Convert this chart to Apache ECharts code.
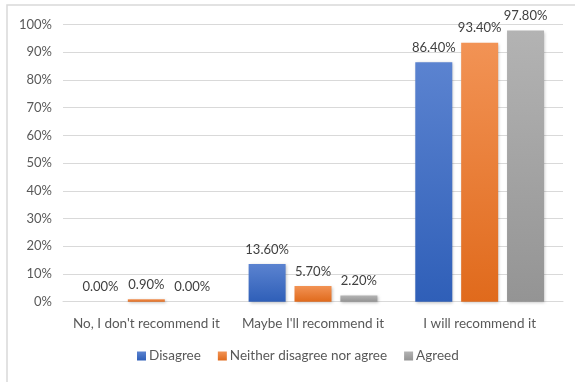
<!DOCTYPE html>
<html>
<head>
<meta charset="utf-8">
<script src="https://cdn.jsdelivr.net/npm/echarts@6/dist/echarts.min.js"></script>
<style>
  html, body { margin: 0; padding: 0; background: #fff; }
</style>
</head>
<body>
<div id="chart" style="width: 575px;height: 382px;"></div>
<script>
  var categories = ['No, I don\'t recommend it', 'Maybe I\'ll recommend it', 'I will recommend it'];
  var disagree = [0.0, 13.6, 86.4];
  var neither = [0.9, 5.7, 93.4];
  var agreed = [0.0, 2.2, 97.8];

  var FONT = 'Lato';

  function grad(top, bottom) {
    return new echarts.graphic.LinearGradient(0, 0, 0, 1, [
      { offset: 0, color: top },
      { offset: 1, color: bottom }
    ]);
  }

  function makeSeries(name, data, top, bottom) {
    return {
      name: name,
      type: 'bar',
      data: data,
      barWidth: 37,
      barGap: '24%',
      itemStyle: {
        color: grad(top, bottom),
        shadowColor: 'rgba(0,0,0,0.25)',
        shadowBlur: 3,
        shadowOffsetX: 1,
        shadowOffsetY: 1
      },
      label: {
        show: true,
        position: 'top',
        distance: 8,
        fontFamily: FONT,
        fontSize: 13,
        color: '#404040',
        formatter: function (p) { return p.value.toFixed(2) + '%'; }
      }
    };
  }

  var chart = echarts.init(document.getElementById('chart'));
  chart.setOption({
    animation: false,
    color: ['#4472C4', '#ED7D31', '#A5A5A5'],
    textStyle: { fontFamily: FONT },
    graphic: [
      {
        type: 'rect',
        shape: { x: 7, y: 5, width: 600, height: 400 },
        style: { fill: 'none', stroke: '#d9d9d9', lineWidth: 1.5 },
        silent: true
      }
    ],
    grid: {
      left: 63,
      right: 12,
      top: 24.5,
      bottom: 80.3
    },
    legend: {
      bottom: 14,
      left: 132,
      itemWidth: 9,
      itemHeight: 9,
      itemGap: 17,
      icon: 'rect',
      textStyle: { fontFamily: FONT, fontSize: 13.5, color: '#595959', padding: [0, 0, 0, -2] },
      data: ['Disagree', 'Neither disagree nor agree', 'Agreed']
    },
    xAxis: {
      type: 'category',
      data: categories,
      axisLine: { lineStyle: { color: '#d9d9d9' } },
      axisTick: { show: false },
      axisLabel: { interval: 0, fontFamily: FONT, fontSize: 13.5, color: '#595959', margin: 15 }
    },
    yAxis: {
      type: 'value',
      min: 0,
      max: 100,
      interval: 10,
      axisLine: { show: false },
      axisTick: { show: false },
      splitLine: { lineStyle: { color: '#d9d9d9' } },
      axisLabel: {
        fontFamily: FONT, fontSize: 13, color: '#595959', margin: 11,
        formatter: '{value}%'
      }
    },
    series: [
      makeSeries('Disagree', disagree, '#5b83d0', '#2f5fb8'),
      makeSeries('Neither disagree nor agree', neither, '#f29355', '#e06a1c'),
      makeSeries('Agreed', agreed, '#b3b3b3', '#949494')
    ]
  });
</script>
</body>
</html>
